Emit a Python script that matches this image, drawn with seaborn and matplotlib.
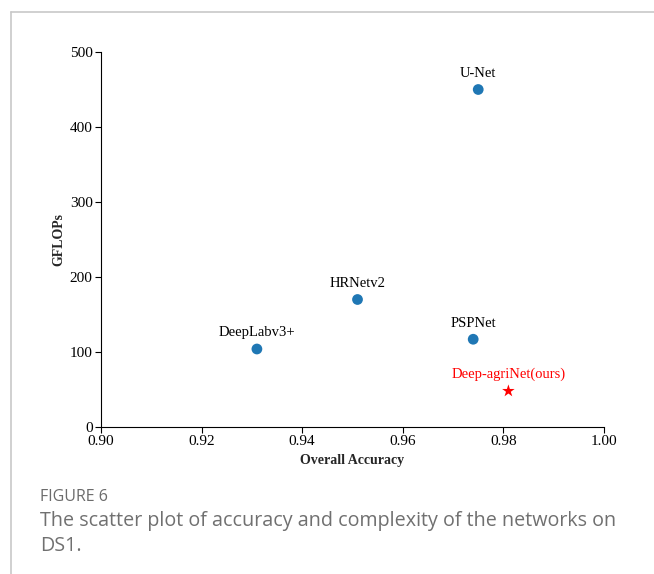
import matplotlib
matplotlib.use("Agg")
import matplotlib.pyplot as plt
import seaborn as sns
import pandas as pd
from matplotlib.lines import Line2D

# Accuracy / complexity of the compared networks
models = ["U-Net", "HRNetv2", "DeepLabv3+", "PSPNet"]
accuracy = [0.975, 0.951, 0.931, 0.974]
gflops = [450, 170, 104, 117]

ours_name = "Deep-agriNet(ours)"
ours_accuracy = [0.981]
ours_gflops = [48]

x_ticks = [0.90, 0.92, 0.94, 0.96, 0.98, 1.00]
y_ticks = [0, 100, 200, 300, 400, 500]

sns.set_theme(style="ticks")
serif = ["Liberation Serif", "DejaVu Serif"]
plt.rcParams["font.family"] = serif

fig = plt.figure(figsize=(6.54, 5.74), dpi=100)
ax = fig.add_axes([0.1544, 0.2561, 0.7691, 0.6533])

df = pd.DataFrame({"model": models, "acc": accuracy, "gflops": gflops})
df_ours = pd.DataFrame({"model": [ours_name], "acc": ours_accuracy, "gflops": ours_gflops})

sns.scatterplot(data=df, x="acc", y="gflops", ax=ax, color="#1f77b4",
                s=60, edgecolor="none", zorder=3)
sns.scatterplot(data=df_ours, x="acc", y="gflops", ax=ax, color="red",
                marker="*", s=90, edgecolor="none", zorder=3)

for m, xv, yv in zip(models, accuracy, gflops):
    ax.annotate(m, (xv, yv), xytext=(0, 7), textcoords="offset points",
                ha="center", va="bottom", fontsize=10.5, color="black",
                family=serif)
ax.annotate(ours_name, ours_accuracy + ours_gflops, xytext=(0, 7),
            textcoords="offset points", ha="center", va="bottom",
            fontsize=10.5, color="red", family=serif)

ax.set_xlim(0.90, 1.00)
ax.set_ylim(0, 500)
ax.set_xticks(x_ticks)
ax.set_xticklabels([f"{t:.2f}" for t in x_ticks], family=serif, fontsize=11)
ax.set_yticks(y_ticks)
ax.set_yticklabels([str(t) for t in y_ticks], family=serif, fontsize=11)
ax.tick_params(axis="both", length=4, width=0.8,
               color="black", labelcolor="black", pad=2)
ax.set_xlabel("Overall Accuracy", fontsize=10, fontweight="bold", labelpad=4,
              family=serif)
ax.set_ylabel("GFLOPs", fontsize=10, fontweight="bold", labelpad=3,
              family=serif)
for side in ("top", "right"):
    ax.spines[side].set_visible(False)
for side in ("left", "bottom"):
    ax.spines[side].set_color("black")
    ax.spines[side].set_linewidth(0.8)

# Card frame (top and left edges)
fig.add_artist(Line2D([11 / 654, 1.0], [1 - 12 / 574, 1 - 12 / 574],
                      transform=fig.transFigure, color="#c8c8c8", lw=1.2))
fig.add_artist(Line2D([11 / 654, 11 / 654], [0.0, 1 - 12 / 574],
                      transform=fig.transFigure, color="#c8c8c8", lw=1.2))

# Caption
cap_font = ["Open Sans", "DejaVu Sans"]
fig.text(40 / 654, 1 - 497 / 574, "FIGURE 6", fontsize=11.5, color="#6b6b6b",
         family=cap_font, va="center", ha="left")
fig.text(40 / 654, 1 - 521 / 574,
         "The scatter plot of accuracy and complexity of the networks on",
         fontsize=14.2, color="#707070", family=cap_font, va="center", ha="left")
fig.text(40 / 654, 1 - 546 / 574, "DS1.", fontsize=14.2, color="#707070",
         family=cap_font, va="center", ha="left")

fig.savefig("out.png", dpi=100, facecolor="white")
